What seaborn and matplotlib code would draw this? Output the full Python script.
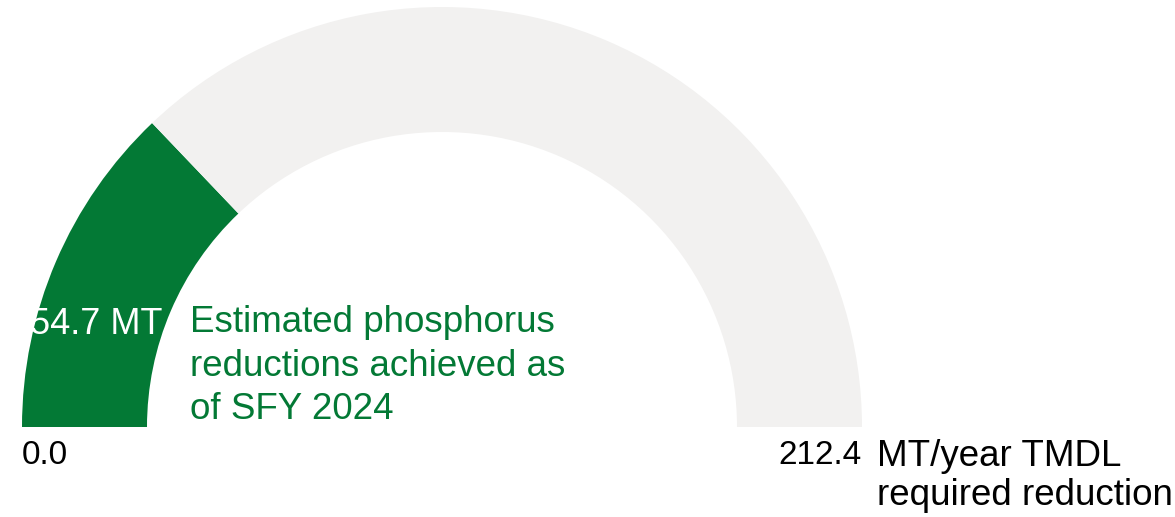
import matplotlib
matplotlib.use("Agg")
import matplotlib.pyplot as plt
import seaborn as sns

# gauge values (MT/year)
achieved = 54.7
required = 212.4
segment_names = ["achieved", "remaining", "hidden"]
segment_values = [achieved, required - achieved, required]
segment_colors = ["#037935", "#F2F1F0", "none"]

sns.set_theme(style="white")
plt.rcParams['font.family'] = ['Liberation Sans', 'DejaVu Sans']

fig = plt.figure(figsize=(11.75, 5.17), dpi=100)
ax = fig.add_axes([0, 0, 1, 1])

# half donut, drawn with pixel-like coordinates (y up)
ax.pie(segment_values, colors=segment_colors, startangle=180, counterclock=False,
       center=(442, 90), radius=420, frame=True,
       wedgeprops=dict(width=125, edgecolor="none", linewidth=0))
ax.set_xlim(0, 1175)
ax.set_ylim(0, 517)
ax.set_aspect("equal")
ax.axis("off")

green = "#037935"
ax.text(162, 193, f"{achieved:.1f} MT", color="white", fontsize=26,
        ha="right", va="center")
ax.text(190, 151, "Estimated phosphorus\nreductions achieved as\nof SFY 2024",
        color=green, fontsize=26.5, ha="left", va="center", linespacing=1.3)
ax.text(22, 62, "0.0", color="black", fontsize=24, ha="left", va="center")
ax.text(862, 62, f"{required:.1f}", color="black", fontsize=24, ha="right", va="center")
ax.text(877, 41, "MT/year TMDL\nrequired reduction", color="black", fontsize=26.5,
        ha="left", va="center", linespacing=1.18)

fig.savefig("out.png", dpi=100)
